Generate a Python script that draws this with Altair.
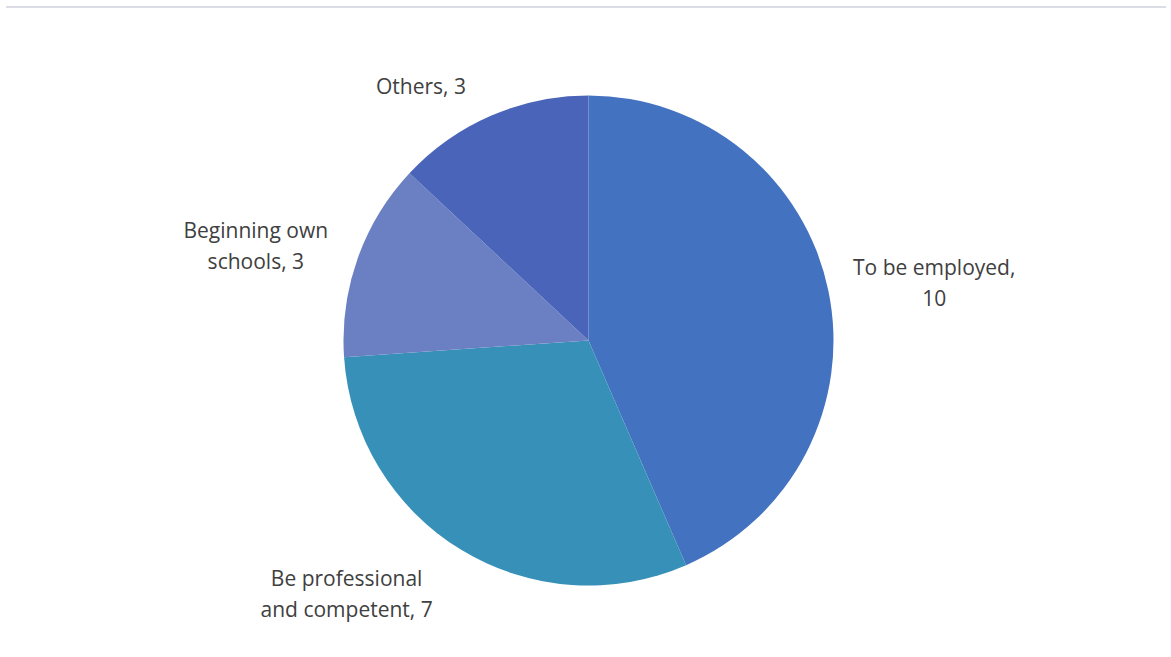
import altair as alt
import pandas as pd

categories = ["To be employed", "Be professional and competent", "Beginning own schools", "Others"]
values = [10, 7, 3, 3]
label_texts = ["To be employed,\n10", "Be professional\nand competent, 7", "Beginning own\nschools, 3", "Others, 3"]
colors = ["#4373c0", "#3790b8", "#6b80c2", "#4a64b9"]

df = pd.DataFrame({
    "category": categories,
    "value": values,
    "label": label_texts,
    "order": list(range(len(categories))),
})
total = sum(values)

base = alt.Chart(df).transform_stack(
    stack="value", groupby=[], as_=["v0", "v1"], sort=[alt.SortField("order")]
).transform_calculate(mid="(datum.v0 + datum.v1) / 2")

theta_scale = alt.Scale(domain=[0, total])

arc = base.mark_arc(radius=245).encode(
    theta=alt.Theta("v0:Q", scale=theta_scale),
    theta2="v1:Q",
    color=alt.Color("category:N", scale=alt.Scale(domain=categories, range=colors), legend=None),
)

nudges = {
    "To be employed": (52, -10),
    "Be professional and competent": (-86, -17),
    "Beginning own schools": (-50, -8),
    "Others": (-48, 23),
}

labels = []
for c in categories:
    dx, dy = nudges[c]
    labels.append(
        base.transform_filter(alt.datum.category == c).mark_text(
            radius=300, dx=dx, dy=dy, font="Open Sans", fontSize=21,
            color="#404040", align="center", baseline="middle",
            lineBreak="\n", lineHeight=31,
        ).encode(
            theta=alt.Theta("mid:Q", scale=theta_scale),
            text="label:N",
        )
    )

border = alt.Chart(df).mark_rule(color="#d9dae3", strokeWidth=1).encode(
    x=alt.value(0), x2=alt.value(1160), y=alt.value(-17)
)

chart = alt.layer(arc, *labels, border).properties(
    width=1171, height=657,
    autosize=alt.AutoSizeParams(type="fit", contains="padding"),
    padding={"left": 5, "top": 6, "right": 0, "bottom": 0},
    background="#ffffff",
).configure_view(stroke=None)

chart.save("out.html", embed_options={"renderer": "svg", "actions": False})
